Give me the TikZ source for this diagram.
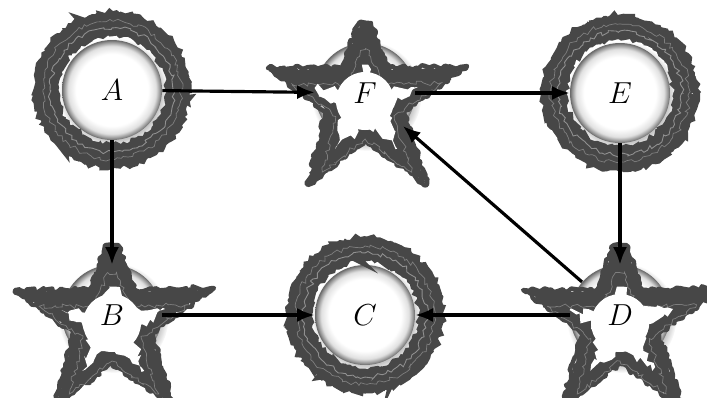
\documentclass[tikz,border=0pt]{standalone}
\usetikzlibrary{decorations.pathmorphing,shadows,arrows.meta}
\pgfdeclareradialshading{ballshade}{\pgfpoint{0bp}{0bp}}{color(0bp)=(white); color(18bp)=(white); color(22bp)=(black!12); color(24.2bp)=(black!45); color(25bp)=(black!60); color(50bp)=(black!60)}
\tikzset{
  ball/.style={circle, minimum size=2cm, inner sep=0pt, shading=ballshade,
    circular drop shadow={shadow xshift=0.8pt, shadow yshift=-1.5pt, opacity=0.45}},
  lab/.style={font=\fontsize{18}{20}\selectfont, inner sep=0pt},
  edge/.style={line width=1.8pt, -{Latex[length=10pt,width=8pt]}},
  rough/.style={decorate, decoration={random steps, segment length=2pt, amplitude=1.3pt}},
  rougher/.style={decorate, decoration={random steps, segment length=3pt, amplitude=2.5pt}},
  ringline/.style={rough, draw=black!72},
  starstroke/.style={rough, draw=black!72, line join=round},
}
\newcommand\mystarpath{(-6,-70) -- (6,-70) -- (23,-25) -- (102,-27) -- (39,18) -- (62,92) -- (0,48) -- (-57,92) -- (-39,18) -- (-97,-25) -- (-23,-25) -- cycle}
\newcommand\myring[1]{%
  \foreach \r/\w in {57/4, 61/5, 66/5, 71/5, 75/4}{
    \draw[ringline, line width=\w pt] (#1.center) circle (\r);
  }
  \draw[rough, draw=white, line width=0.5pt, opacity=0.4] (#1.center) circle (62);
  \draw[rough, draw=white, line width=0.4pt, opacity=0.3] (#1.center) circle (69);
}
\newcommand\mystar[1]{%
  \begin{scope}[shift={(#1.center)}]
    \fill[rough, black!72] \mystarpath;
    \draw[starstroke, line width=2.5pt] \mystarpath;
    \begin{scope}[shift={(0,10)}, scale=0.75]
      \draw[rough, draw=white, line width=0.4pt, opacity=0.3] \mystarpath;
    \end{scope}
    \begin{scope}[shift={(0,8)}, scale=0.52]
      \fill[rougher, white] \mystarpath;
    \end{scope}
    \fill[white] (0,8) circle (29);
  \end{scope}
}
\begin{document}
\begin{tikzpicture}[x=0.02cm, y=-0.02cm]
  \pgfmathsetseed{7}
  \useasboundingbox (0,0) rectangle (707,397);
  \clip (0,0) rectangle (707,397);
  % circles
  \node[ball] (A) at (112,90) {};
  \node[ball] (F) at (365,93) {};
  \node[ball] (E) at (620,93) {};
  \node[ball] (B) at (112,315) {};
  \node[ball] (C) at (365,315) {};
  \node[ball] (D) at (620,315) {};
  % rough rings and stars
  \myring{A}
  \myring{E}
  \myring{C}
  \mystar{F}
  \mystar{B}
  \mystar{D}
  % labels
  \node[lab] (lA) at (A) {$A$};
  \node[lab] (lF) at (F) {$F$};
  \node[lab] (lE) at (E) {$E$};
  \node[lab] (lB) at (B) {$B$};
  \node[lab] (lC) at (C) {$C$};
  \node[lab] (lD) at (D) {$D$};
  % edges
  \draw[edge] (A) -- (F);
  \draw[edge] (F) -- (E);
  \draw[edge] (A) -- (B);
  \draw[edge] (E) -- (D);
  \draw[edge] (D) -- (F);
  \draw[edge] (B) -- (C);
  \draw[edge] (D) -- (C);
\end{tikzpicture}
\end{document}
